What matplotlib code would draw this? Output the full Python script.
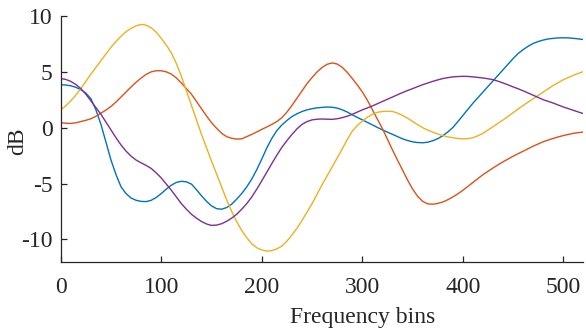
import numpy as np
import matplotlib
matplotlib.use("Agg")
import matplotlib.pyplot as plt

# Frequency bins (every 5th bin plus the last one) and the four curves in dB
bins = list(range(0, 519, 5)) + [519]

blue = [3.85, 3.82, 3.75, 3.62, 3.4, 3.1, 2.6, 1.6, 0.3, -1.3,
        -2.9, -4.2, -5.3, -5.9, -6.3, -6.5, -6.6, -6.62, -6.5, -6.25,
        -5.9, -5.5, -5.15, -4.9, -4.8, -4.85, -5.05, -5.55, -6.1, -6.6,
        -7.0, -7.25, -7.3, -7.15, -6.85, -6.4, -5.9, -5.3, -4.6, -3.75,
        -2.8, -1.8, -0.95, -0.25, 0.25, 0.65, 1.0, 1.25, 1.45, 1.6,
        1.7, 1.78, 1.82, 1.85, 1.83, 1.75, 1.6, 1.4, 1.15, 0.92,
        0.7, 0.47, 0.25, 0.02, -0.2, -0.4, -0.6, -0.8, -1.0, -1.15,
        -1.27, -1.33, -1.35, -1.3, -1.17, -0.98, -0.72, -0.38, 0.02, 0.55,
        1.1, 1.65, 2.2, 2.7, 3.2, 3.7, 4.2, 4.7, 5.2, 5.7,
        6.2, 6.65, 7.0, 7.3, 7.55, 7.72, 7.85, 7.95, 8.0, 8.04,
        8.05, 8.04, 8.0, 7.95, 7.9]

orange = [0.45, 0.4, 0.38, 0.44, 0.55, 0.66, 0.8, 1.02, 1.3, 1.58,
          1.9, 2.3, 2.75, 3.2, 3.65, 4.07, 4.45, 4.78, 5.0, 5.1,
          5.1, 5.0, 4.8, 4.45, 4.0, 3.5, 3.0, 2.35, 1.7, 1.05,
          0.45, -0.05, -0.5, -0.8, -0.95, -1.02, -1.0, -0.8, -0.6, -0.38,
          -0.15, 0.07, 0.3, 0.55, 0.9, 1.4, 2.0, 2.65, 3.3, 3.95,
          4.5, 5.0, 5.4, 5.68, 5.8, 5.7, 5.4, 4.95, 4.4, 3.82,
          3.2, 2.45, 1.6, 0.75, -0.1, -1.05, -2.0, -2.92, -3.8, -4.7,
          -5.5, -6.15, -6.6, -6.82, -6.85, -6.78, -6.65, -6.45, -6.2, -5.92,
          -5.6, -5.25, -4.9, -4.55, -4.2, -3.9, -3.6, -3.32, -3.05, -2.8,
          -2.55, -2.32, -2.1, -1.87, -1.65, -1.45, -1.25, -1.1, -0.95, -0.82,
          -0.7, -0.6, -0.5, -0.44, -0.4]

yellow = [1.6, 1.95, 2.4, 2.92, 3.5, 4.15, 4.8, 5.4, 6.0, 6.6,
          7.2, 7.72, 8.2, 8.6, 8.9, 9.12, 9.25, 9.18, 8.95, 8.55,
          8.0, 7.4, 6.7, 5.75, 4.6, 3.3, 2.0, 0.7, -0.6, -1.8,
          -3.0, -4.15, -5.3, -6.45, -7.5, -8.4, -9.2, -9.85, -10.4, -10.75,
          -10.95, -11.05, -11.0, -10.85, -10.6, -10.15, -9.6, -9.0, -8.3, -7.55,
          -6.8, -5.95, -5.1, -4.3, -3.5, -2.7, -1.9, -1.05, -0.3, 0.2,
          0.6, 0.95, 1.2, 1.38, 1.45, 1.48, 1.45, 1.3, 1.1, 0.85,
          0.55, 0.27, 0.0, -0.22, -0.4, -0.57, -0.7, -0.82, -0.9, -0.97,
          -1.0, -0.98, -0.9, -0.72, -0.5, -0.2, 0.1, 0.4, 0.7, 1.02,
          1.35, 1.68, 2.0, 2.3, 2.6, 2.9, 3.2, 3.5, 3.8, 4.05,
          4.3, 4.5, 4.7, 4.87, 5.0]

purple = [4.4, 4.32, 4.15, 3.87, 3.5, 3.0, 2.4, 1.8, 1.2, 0.5,
          -0.2, -0.9, -1.55, -2.1, -2.55, -2.9, -3.15, -3.38, -3.65, -4.05,
          -4.5, -5.05, -5.6, -6.2, -6.8, -7.3, -7.75, -8.1, -8.4, -8.62,
          -8.75, -8.72, -8.6, -8.38, -8.1, -7.75, -7.3, -6.8, -6.2, -5.5,
          -4.75, -3.98, -3.2, -2.45, -1.75, -1.15, -0.6, -0.1, 0.3, 0.55,
          0.7, 0.76, 0.78, 0.76, 0.75, 0.8, 0.9, 1.03, 1.2, 1.4,
          1.6, 1.77, 1.95, 2.15, 2.35, 2.55, 2.75, 2.95, 3.15, 3.33,
          3.5, 3.68, 3.85, 4.0, 4.15, 4.28, 4.4, 4.48, 4.55, 4.58,
          4.6, 4.59, 4.55, 4.5, 4.45, 4.38, 4.3, 4.16, 4.0, 3.83,
          3.65, 3.48, 3.3, 3.1, 2.9, 2.7, 2.5, 2.35, 2.2, 2.02,
          1.85, 1.7, 1.55, 1.4, 1.28]

xticks = [0, 100, 200, 300, 400, 500]
yticks = [-10, -5, 0, 5, 10]

plt.rcParams['font.family'] = 'Liberation Serif'
axis_color = '#262626'

fig = plt.figure(figsize=(5.86, 3.28), dpi=100)
ax = fig.add_axes([0.1036, 0.2021, 0.8906, 0.7491])

for series, col in [(blue, '#0072BD'), (orange, '#D95319'),
                    (yellow, '#EDB120'), (purple, '#7E2F8E')]:
    ax.plot(bins, series, color=col, linewidth=1.0)

ax.set_xlim(0, 519)
ax.set_ylim(-12, 10)
ax.set_xticks(xticks)
ax.set_yticks(yticks)
ax.set_yticklabels([str(t) for t in yticks])

ax.spines['top'].set_visible(False)
ax.spines['right'].set_visible(False)
for s in ['left', 'bottom']:
    ax.spines[s].set_color(axis_color)
    ax.spines[s].set_linewidth(0.9)
ax.tick_params(direction='in', length=4.3, width=0.9, colors=axis_color,
               labelsize=17)
ax.tick_params(axis='x', pad=11)
ax.tick_params(axis='y', pad=6)

ax.set_xlabel('Frequency bins', fontsize=17, color=axis_color)
ax.set_ylabel('dB', fontsize=17, color=axis_color)
ax.xaxis.set_label_coords(0.578, -0.185)
ax.yaxis.set_label_coords(-0.062, 0.491)

fig.savefig('out.png', dpi=100)
